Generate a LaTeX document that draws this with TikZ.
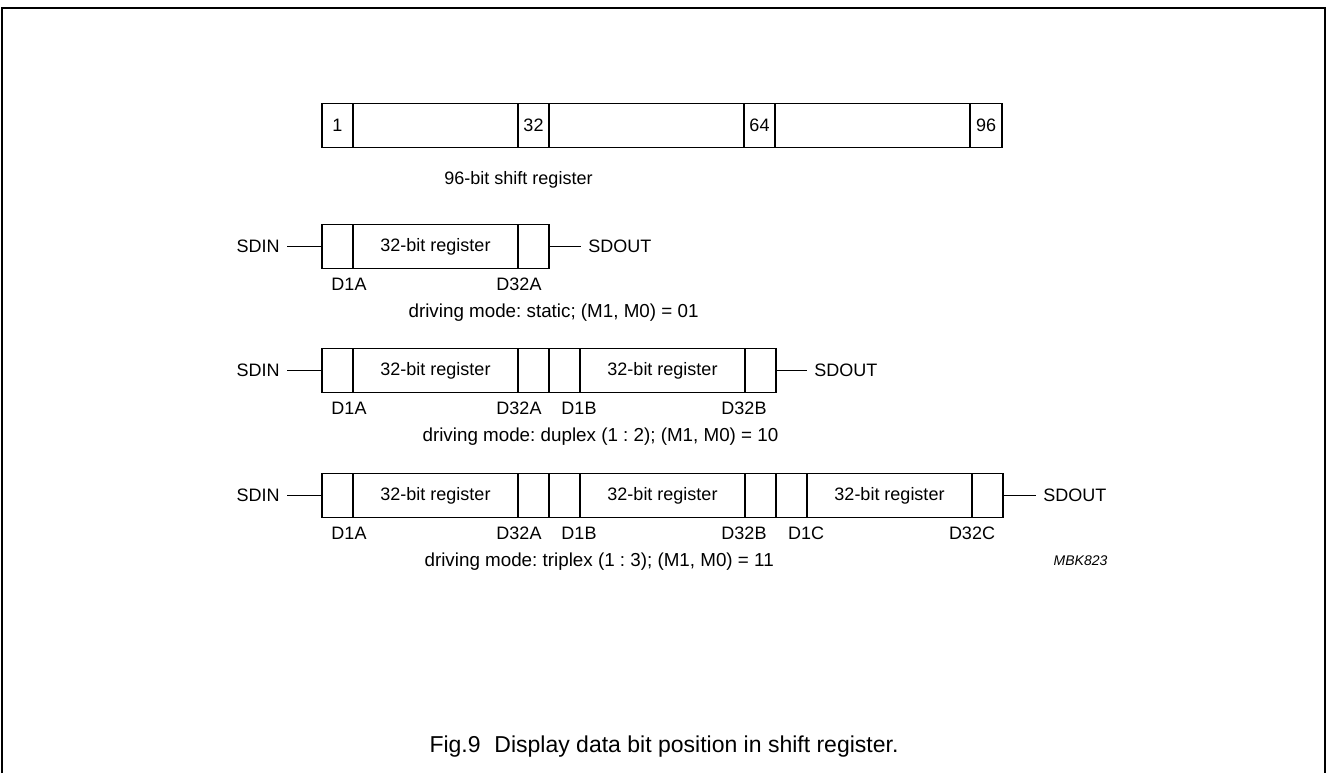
\documentclass[tikz,border=0pt]{standalone}
\usepackage{fontspec}
\setmainfont{Liberation Sans}
\frenchspacing

\begin{document}
\begin{tikzpicture}[x=0.5pt,y=-0.5pt,line width=0.6pt,font=\fontsize{9}{11}\selectfont,
  cell/.style={draw,rectangle,inner sep=0pt,minimum height=22.25pt,minimum width=15.5pt},
  body/.style={draw,rectangle,inner sep=0pt,minimum height=22.25pt,minimum width=82.5pt},
  tag/.style={inner sep=0pt},
  mode/.style={inner sep=0pt,anchor=base west,font=\fontsize{9.4}{11}\selectfont}]
\useasboundingbox (0,0) rectangle (1328,773);
\draw (2,773) -- (2,8) -- (1325,8) -- (1325,773);

\node[cell] (t1) at (337.5,125.5) {1};
\node[body] (t2) at (435.5,125.5) {};
\node[cell] (t3) at (533.5,125.5) {32};
\node[body,minimum width=97.5pt] (t4) at (646.5,125.5) {};
\node[cell] (t5) at (759.5,125.5) {64};
\node[body,minimum width=97.5pt] (t6) at (872.5,125.5) {};
\node[cell,minimum width=16pt] (t7) at (986,125.5) {96};
\node[tag,anchor=base] (tt) at (518.5,184.5) {96-bit shift register};

\node[anchor=east] (sin1) at (287,246.5) {SDIN};
\node[cell] (s1) at (337.5,246.5) {};
\node[body] (s2) at (435.5,246.5) {32-bit register};
\node[cell] (s3) at (533.5,246.5) {};
\node[anchor=west] (sout1) at (581,246.5) {SDOUT};
\path[draw] (sin1) -- (s1);
\path[draw] (s3) -- (sout1);
\node[tag,anchor=base] (s1l) at (349,290.5) {D1A};
\node[tag,anchor=base] (s3l) at (519,290.5) {D32A};
\node[mode] (sm) at (408,317.5) {driving mode: static; (M1, M0) = 01};

\node[anchor=east] (sin2) at (287,370.5) {SDIN};
\node[cell] (d1) at (337.5,370.5) {};
\node[body] (d2) at (435.5,370.5) {32-bit register};
\node[cell] (d3) at (533.5,370.5) {};
\node[cell] (d4) at (564.5,370.5) {};
\node[body] (d5) at (662.5,370.5) {32-bit register};
\node[cell] (d6) at (760.5,370.5) {};
\node[anchor=west] (sout2) at (807,370.5) {SDOUT};
\path[draw] (sin2) -- (d1);
\path[draw] (d6) -- (sout2);
\node[tag,anchor=base] (d1l) at (349,414.5) {D1A};
\node[tag,anchor=base] (d3l) at (519,414.5) {D32A};
\node[tag,anchor=base] (d4l) at (579,414.5) {D1B};
\node[tag,anchor=base] (d6l) at (744,414.5) {D32B};
\node[mode] (dm) at (422,441.5) {driving mode: duplex (1 : 2); (M1, M0) = 10};

\node[anchor=east] (sin3) at (287,495.5) {SDIN};
\node[cell] (r1) at (337.5,495.5) {};
\node[body] (r2) at (435.5,495.5) {32-bit register};
\node[cell] (r3) at (533.5,495.5) {};
\node[cell] (r4) at (564.5,495.5) {};
\node[body] (r5) at (662.5,495.5) {32-bit register};
\node[cell] (r6) at (760.5,495.5) {};
\node[cell] (r7) at (791.5,495.5) {};
\node[body] (r8) at (889.5,495.5) {32-bit register};
\node[cell] (r9) at (987.5,495.5) {};
\node[anchor=west] (sout3) at (1036,495.5) {SDOUT};
\path[draw] (sin3) -- (r1);
\path[draw] (r9) -- (sout3);
\node[tag,anchor=base] (r1l) at (349,539.5) {D1A};
\node[tag,anchor=base] (r3l) at (519,539.5) {D32A};
\node[tag,anchor=base] (r4l) at (579,539.5) {D1B};
\node[tag,anchor=base] (r6l) at (744,539.5) {D32B};
\node[tag,anchor=base] (r7l) at (806,539.5) {D1C};
\node[tag,anchor=base] (r9l) at (972,539.5) {D32C};
\node[mode] (rm) at (424,566.5) {driving mode: triplex (1 : 3); (M1, M0) = 11};
\node[tag,anchor=base east,font=\fontsize{7}{8}\selectfont\itshape] (code) at (1108,565) {MBK823};

\node[tag,anchor=base] (cap) at (664,752) {\fontsize{11.5}{13}\selectfont Fig.9\hspace{0.6em}Display data bit position in shift register.};
\end{tikzpicture}
\end{document}
